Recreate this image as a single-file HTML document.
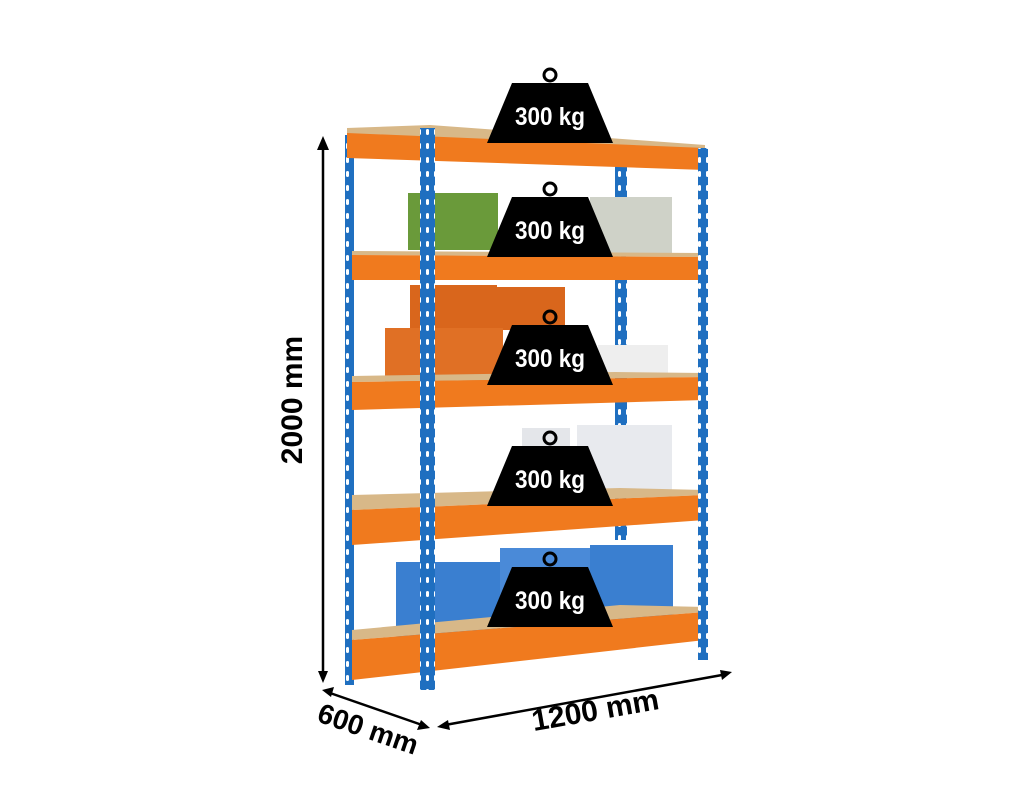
<!DOCTYPE html>
<html><head><meta charset="utf-8"><style>
html,body{margin:0;padding:0;background:#fff;width:1024px;height:801px;overflow:hidden}
svg text{font-family:"Liberation Sans",sans-serif;font-weight:bold}
</style></head><body>
<svg width="1024" height="801" viewBox="0 0 1024 801" xmlns="http://www.w3.org/2000/svg">
<defs>
<pattern id="holes" width="8" height="14" patternUnits="userSpaceOnUse"><rect width="8" height="14" fill="#1f6fc0"/><rect x="2" y="3" width="3" height="6" rx="1.5" fill="#fff"/></pattern>
<g id="w">
<circle cx="0" cy="-8" r="6" fill="none" stroke="#000" stroke-width="3"/>
<polygon points="-38,0 38,0 63,60 -63,60" fill="#000"/>
<text x="0" y="42" text-anchor="middle" font-size="25" fill="#fff" transform="scale(0.9,1)">300 kg</text>
</g>
</defs>
<!-- dimension arrows -->
<line x1="323" y1="675" x2="323" y2="148" stroke="#000" stroke-width="2.5"/>
<path d="M323,136 l-6,14 l12,0z" fill="#000"/>
<path d="M323,683 l-5,-12 l10,0z" fill="#000"/>
<line x1="330" y1="693" x2="425" y2="726" stroke="#000" stroke-width="2.5"/>
<path d="M322,690 l12,-3 l-3,10z" fill="#000"/>
<path d="M430,728 l-13,2 l4,-10z" fill="#000"/>
<line x1="445" y1="725" x2="722" y2="675" stroke="#000" stroke-width="2.5"/>
<path d="M437,727 l11,-7 l2,10z" fill="#000"/>
<path d="M732,672 l-12,-2 l2,10z" fill="#000"/>
<text transform="translate(302,400) rotate(-90)" text-anchor="middle" font-size="30">2000 mm</text>
<text transform="translate(365,738) rotate(19)" text-anchor="middle" font-size="28">600 mm</text>
<text transform="translate(597,720) rotate(-10)" text-anchor="middle" font-size="30">1200 mm</text>
<!-- back posts -->
<rect x="345" y="135" width="9" height="550" fill="url(#holes)"/>
<rect x="615" y="165" width="12" height="375" fill="url(#holes)"/>
<!-- items -->
<rect x="408" y="193" width="90" height="57" fill="#6a9a3a"/>
<rect x="590" y="197" width="82" height="57" fill="#cfd2c8"/>
<rect x="410" y="285" width="87" height="45" fill="#d9661c"/>
<rect x="497" y="287" width="68" height="43" fill="#d9661c"/>
<rect x="385" y="328" width="118" height="55" fill="#e07025"/>
<rect x="598" y="345" width="70" height="33" fill="#eee"/>
<rect x="522" y="428" width="48" height="70" fill="#e4e6ea"/>
<rect x="577" y="425" width="95" height="72" fill="#e8eaee"/>
<rect x="396" y="562" width="104" height="82" fill="#3a7fd0"/>
<rect x="500" y="548" width="90" height="80" fill="#4a8ad8"/>
<rect x="590" y="545" width="83" height="78" fill="#3a7fd0"/>
<!-- shelves -->
<g>
<polygon points="347,128 430,125 705,145 705,150 347,135" fill="#d8b888"/>
<polygon points="347,133 705,148 705,170 347,158" fill="#f07a1e"/>
<polygon points="352,251 705,253 705,257 352,255" fill="#d8b888"/>
<polygon points="352,255 705,257 705,280 352,280" fill="#f07a1e"/>
<polygon points="352,376 615,372 705,373 705,377 352,382" fill="#d8b888"/>
<polygon points="352,382 705,377 705,400 352,410" fill="#f07a1e"/>
<polygon points="352,495 620,488 705,490 705,495 352,510" fill="#d8b888"/>
<polygon points="352,510 705,495 705,520 352,545" fill="#f07a1e"/>
<polygon points="352,630 620,605 705,607 705,612 352,640" fill="#d8b888"/>
<polygon points="352,640 705,612 705,640 352,680" fill="#f07a1e"/>
</g>
<!-- front posts -->
<rect x="420" y="128" width="15" height="562" fill="url(#holes)"/>
<rect x="698" y="148" width="10" height="512" fill="url(#holes)"/>
<!-- weights -->
<use href="#w" x="550" y="83"/>
<use href="#w" x="550" y="197"/>
<use href="#w" x="550" y="325"/>
<use href="#w" x="550" y="446"/>
<use href="#w" x="550" y="567"/>
</svg>
</body></html>
